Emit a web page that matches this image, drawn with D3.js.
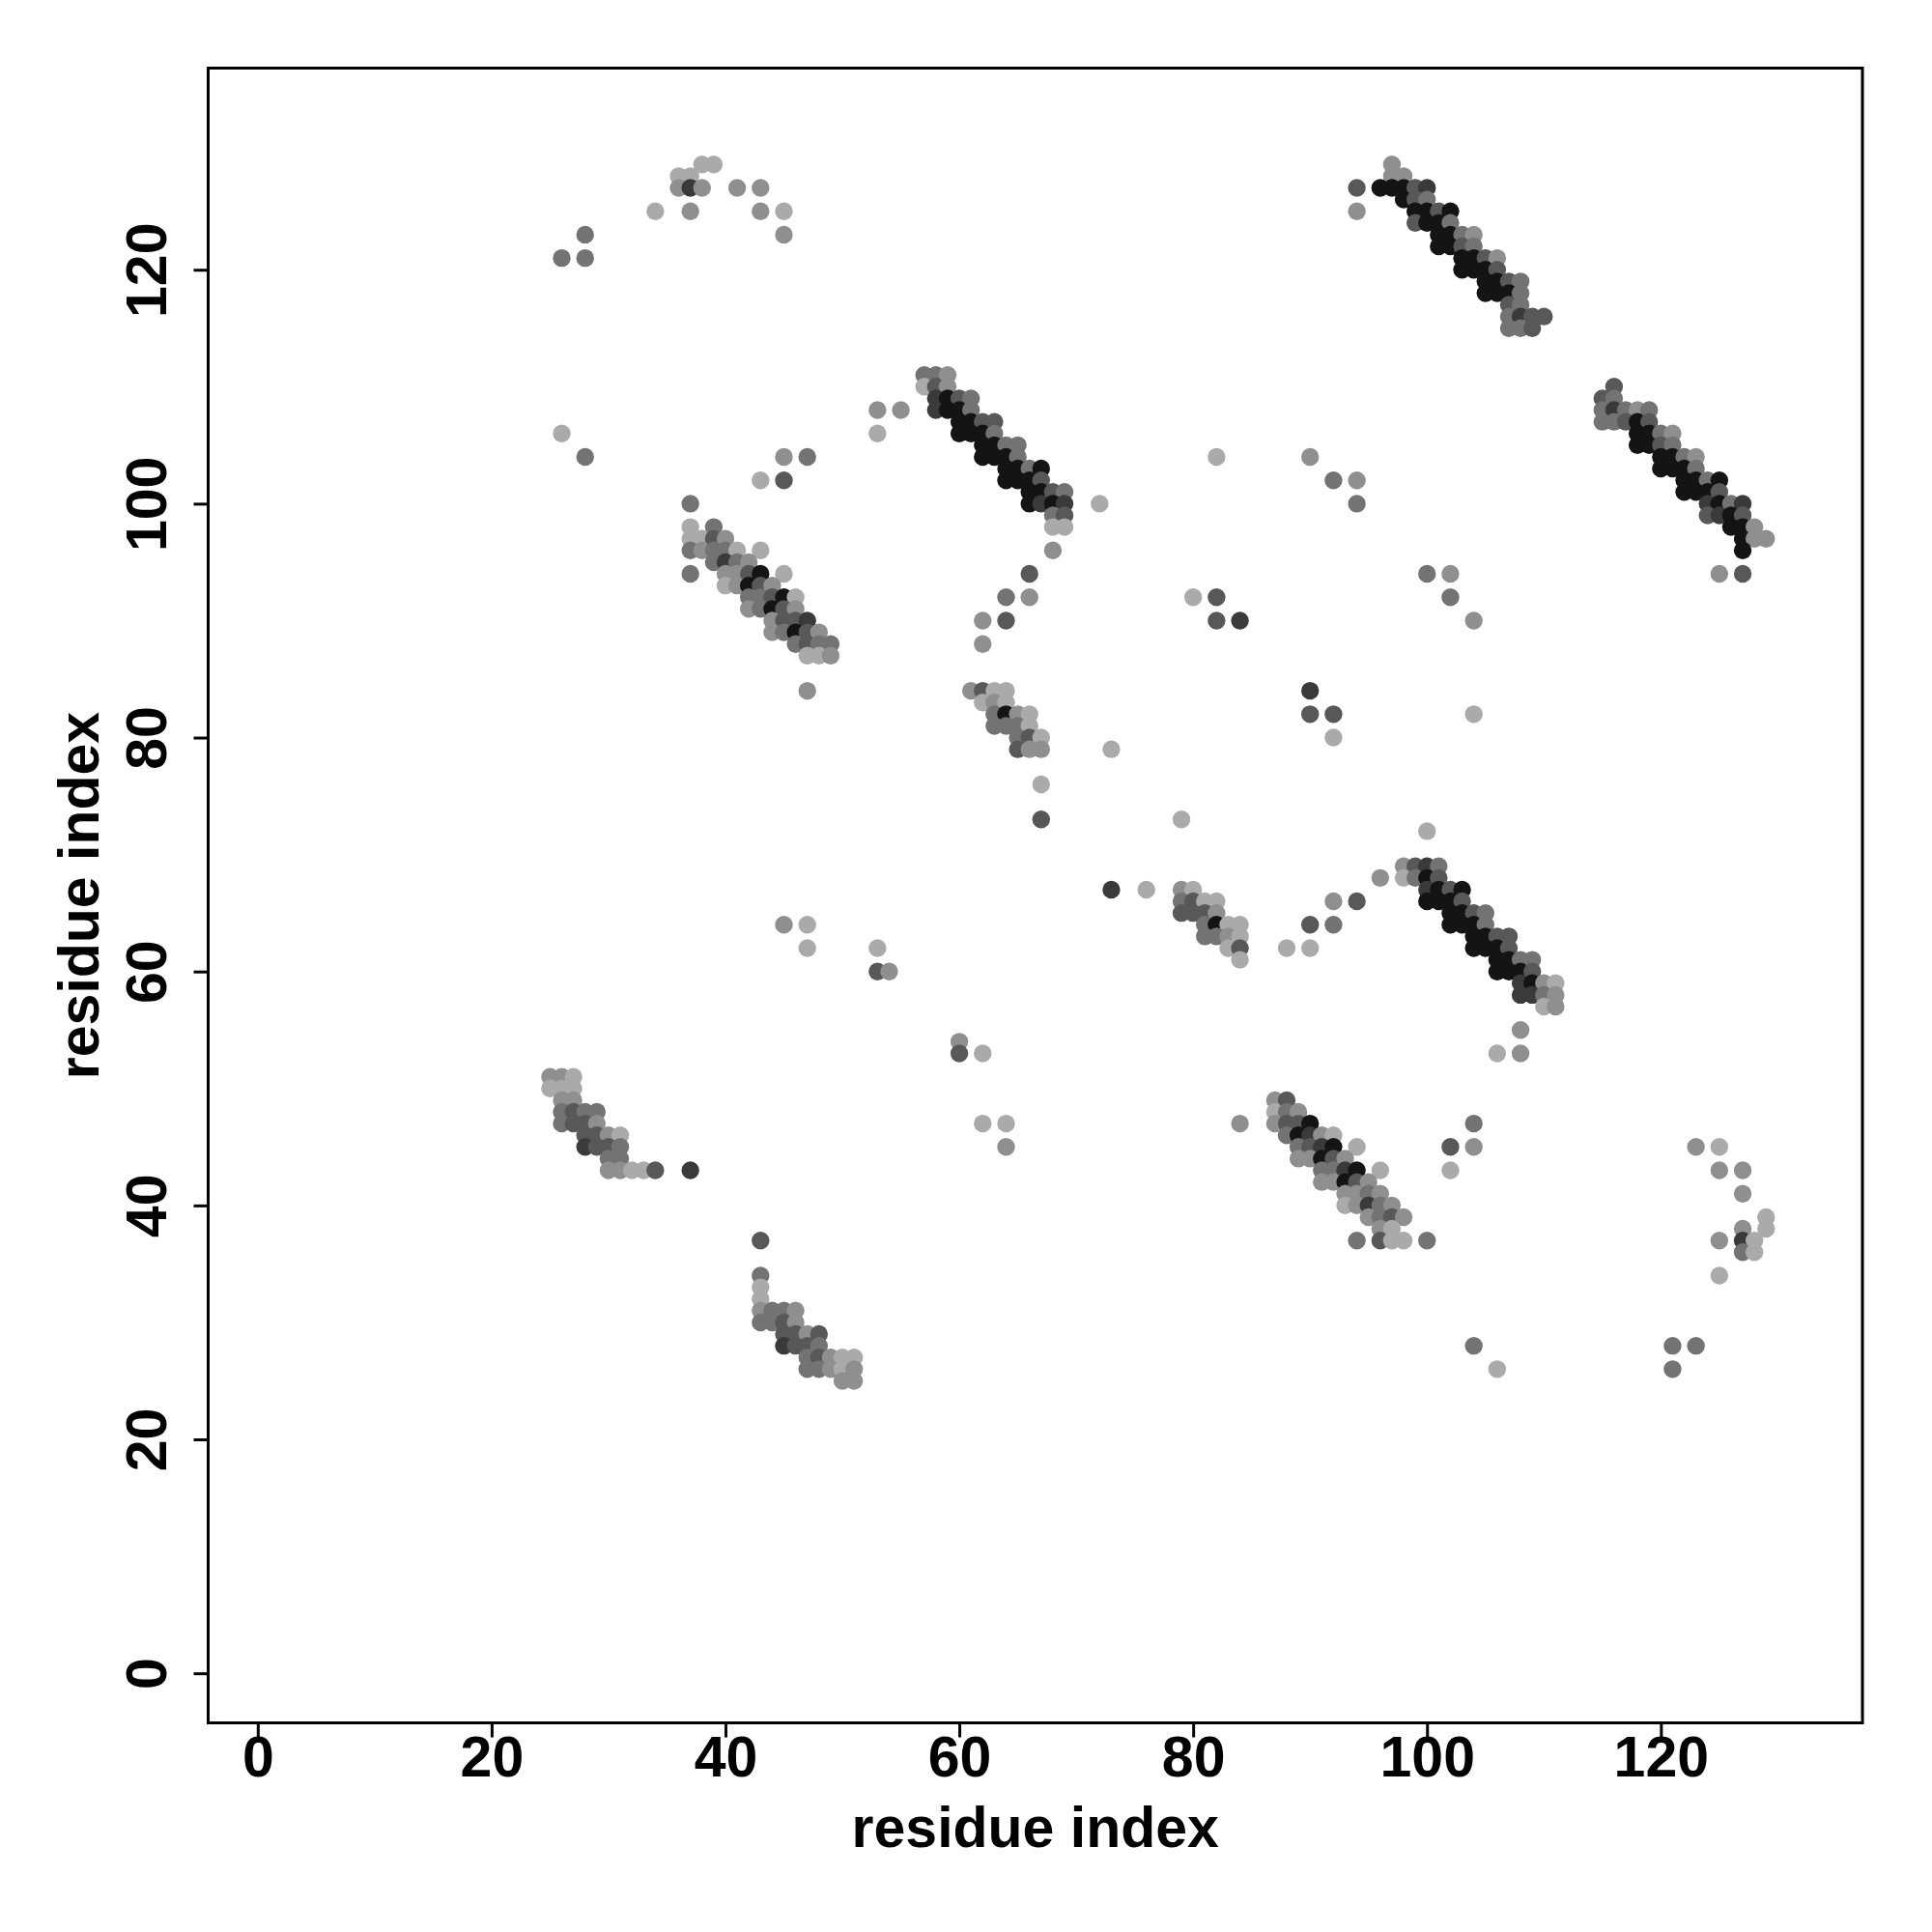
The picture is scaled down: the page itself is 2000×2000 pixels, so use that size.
<!DOCTYPE html>
<html>
<head>
<meta charset="utf-8">
<script src="https://cdn.jsdelivr.net/npm/d3@7"></script>
<style>
  html, body { margin: 0; padding: 0; background: #fff; }
  svg { display: block; }
</style>
</head>
<body>
<svg id="chart" width="2000" height="2000"></svg>
<script>
// ---------- DATA: [residue i, residue j, contact strength level 1..6] ----------
const topLeftScatter = [
  [38,129,1],[39,129,1],[36,128,1],[37,128,1],[36,127,2],[37,127,5],[38,127,2],[41,127,2],[43,127,2],
  [34,125,1],[37,125,2],[43,125,2],[45,125,1],[45,123,2],[26,121,3],[28,121,3],[28,123,3]
];
const upperLeftScatter = [
  [26,106,1],[28,104,3],[45,104,2],[47,104,3],[43,102,1],[45,102,4],[53,108,2],[55,108,2],[53,106,1]
];
const strand57to69 = [
  [57,111,3],[58,111,3],[59,111,2],
  [57,110,1],[58,110,4],[59,110,2],
  [58,109,5],[59,109,6],[60,109,4],[61,109,3],
  [58,108,5],[59,108,6],[60,108,6],[61,108,3],
  [60,107,6],[61,107,6],[62,107,4],[63,107,4],
  [60,106,6],[61,106,6],[62,106,6],[63,106,3],
  [62,105,6],[63,105,6],[64,105,3],[65,105,3],
  [62,104,6],[63,104,6],[64,104,6],[65,104,3],
  [64,103,6],[65,103,6],[66,103,3],[67,103,6],
  [64,102,6],[65,102,6],[66,102,6],[67,102,4],
  [66,101,6],[67,101,6],[68,101,4],[69,101,3],
  [66,100,6],[67,100,5],[68,100,6],[69,100,5],
  [68,99,3],[69,99,4],
  [68,98,1],[69,98,1]
];
const nearStrandScatter = [
  [72,100,1],[68,96,2],[66,94,4],[64,92,3],[66,92,2],[62,90,2],[64,90,4],[62,88,2]
];
const strand94to111 = [
  [94,127,4],[94,125,2],[97,129,2],[97,128,2],[98,128,2],
  [96,127,6],[97,127,6],[98,127,6],[99,127,4],[100,127,5],
  [98,126,6],[99,126,4],[100,126,3],
  [99,125,6],[100,125,6],[101,125,4],[102,125,6],
  [99,124,4],[100,124,6],[101,124,6],[102,124,3],
  [101,123,6],[102,123,6],[103,123,3],[104,123,2],
  [101,122,6],[102,122,6],[103,122,4],[104,122,3],
  [103,121,6],[104,121,6],[105,121,4],[106,121,2],
  [103,120,6],[104,120,6],[105,120,6],[106,120,4],
  [105,119,6],[106,119,6],[107,119,4],[108,119,3],
  [105,118,6],[106,118,6],[107,118,6],[108,118,3],
  [107,117,4],[108,117,3],
  [107,116,3],[108,116,5],[109,116,4],[110,116,4],
  [107,115,3],[108,115,3],[109,115,4]
];
const strand115to129 = [
  [116,110,4],[115,109,4],[116,109,3],
  [115,108,3],[116,108,5],[117,108,3],[118,108,2],[119,108,3],
  [115,107,3],[116,107,3],[117,107,4],[118,107,6],[119,107,4],
  [118,106,6],[119,106,6],[120,106,3],[121,106,2],
  [118,105,6],[119,105,6],[120,105,4],[121,105,3],
  [120,104,6],[121,104,6],[122,104,3],[123,104,2],
  [120,103,6],[121,103,6],[122,103,6],[123,103,3],
  [122,102,6],[123,102,6],[124,102,3],[125,102,6],
  [122,101,6],[123,101,6],[124,101,6],[125,101,4],
  [124,100,5],[125,100,6],[126,100,3],[127,100,5],
  [124,99,4],[125,99,5],[126,99,6],[127,99,4],
  [126,98,6],[127,98,6],[128,98,2],
  [127,97,6],[128,97,2],[129,97,2],
  [127,96,6],
  [125,94,2],[127,94,4]
];
const strand37to49 = [
  [37,100,3],
  [37,98,1],[39,98,3],
  [37,97,1],[38,97,1],[39,97,4],[40,97,2],
  [37,96,3],[38,96,2],[39,96,3],[40,96,3],[41,96,1],[43,96,1],
  [39,95,3],[40,95,5],[41,95,3],[42,95,2],
  [37,94,3],[40,94,2],[41,94,2],[42,94,4],[43,94,6],[45,94,1],
  [40,93,1],[41,93,2],[42,93,6],[43,93,4],[44,93,2],
  [42,92,3],[43,92,3],[44,92,4],[45,92,6],[46,92,1],
  [42,91,2],[43,91,3],[44,91,6],[45,91,4],[46,91,2],
  [44,90,2],[45,90,4],[46,90,4],[47,90,5],
  [44,89,2],[45,89,3],[46,89,6],[47,89,4],[48,89,2],
  [46,88,3],[47,88,4],[48,88,3],[49,88,3],
  [47,87,1],[48,87,1],[49,87,2],
  [47,84,2]
];
const midScatter = [
  [82,104,1],[90,104,2],[92,102,3],[94,102,2],[94,100,3],[100,94,3],[102,94,2],[102,92,3],[104,90,2],
  [80,92,1],[82,92,4],[82,90,4],[84,90,5],[90,84,5],[90,82,4],[92,82,4],[92,80,1],[104,82,1],[73,79,1]
];
const strand61to67 = [
  [61,84,2],[62,84,4],[63,84,1],[64,84,1],
  [62,83,1],[63,83,2],[64,83,1],
  [63,82,3],[64,82,6],[65,82,2],[66,82,1],
  [63,81,3],[64,81,3],[65,81,3],[66,81,1],
  [65,80,3],[66,80,4],[67,80,1],
  [65,79,4],[66,79,2],[67,79,2],
  [67,76,1],[67,73,4]
];
const strand79to84 = [
  [73,67,5],[76,67,1],[79,73,1],
  [79,67,2],[80,67,1],
  [79,66,3],[80,66,4],[81,66,1],[82,66,1],
  [79,65,4],[80,65,4],[81,65,4],[82,65,2],
  [81,64,3],[82,64,6],[83,64,1],[84,64,1],
  [81,63,3],[82,63,3],[83,63,2],[84,63,1],
  [83,62,1],[84,62,4],
  [84,61,1]
];
const scatter88to100 = [
  [100,72,1],[96,68,2],[92,66,2],[94,66,4],[90,64,4],[92,64,3],[88,62,1],[90,62,1]
];
const strand98to111 = [
  [98,69,2],[99,69,4],[100,69,5],[101,69,3],
  [98,68,1],[99,68,3],[100,68,6],[101,68,4],
  [100,67,5],[101,67,6],[102,67,4],[103,67,6],
  [100,66,6],[101,66,6],[102,66,6],[103,66,4],
  [102,65,6],[103,65,6],[104,65,4],[105,65,3],
  [102,64,6],[103,64,6],[104,64,6],[105,64,3],
  [104,63,6],[105,63,6],[106,63,4],[107,63,4],
  [104,62,6],[105,62,6],[106,62,6],[107,62,4],
  [106,61,6],[107,61,6],[108,61,3],[109,61,3],
  [106,60,6],[107,60,6],[108,60,6],[109,60,4],
  [108,59,5],[109,59,6],[110,59,2],[111,59,1],
  [108,58,5],[109,58,5],[110,58,3],[111,58,2],
  [110,57,1],[111,57,2],
  [108,55,2],[106,53,1],[108,53,2]
];
const lowerLeftScatter = [
  [45,64,2],[47,64,1],[47,62,1],[53,62,1],[53,60,4],[54,60,2],[60,54,2],[60,53,4],[62,53,1],
  [62,47,1],[64,47,1],[64,45,2],[37,43,5]
];
const strand25to34 = [
  [25,51,2],[26,51,2],[27,51,1],
  [25,50,1],[26,50,1],[27,50,1],
  [26,49,2],[27,49,2],
  [26,48,3],[27,48,4],[28,48,3],[29,48,3],
  [26,47,3],[27,47,4],[28,47,4],[29,47,2],
  [28,46,4],[29,46,4],[30,46,2],[31,46,1],
  [28,45,5],[29,45,4],[30,45,4],[31,45,3],
  [30,44,3],[31,44,3],
  [30,43,2],[31,43,2],[32,43,1],[33,43,1],[34,43,4]
];
const strand43to51 = [
  [43,37,4],[43,34,3],[43,33,1],[43,32,1],
  [43,31,2],[44,31,3],[45,31,3],[46,31,2],
  [43,30,3],[44,30,3],[45,30,4],[46,30,2],
  [45,29,4],[46,29,4],[47,29,2],[48,29,4],
  [45,28,5],[46,28,4],[47,28,4],[48,28,3],
  [47,27,3],[48,27,4],[49,27,2],[50,27,1],[51,27,1],
  [47,26,3],[48,26,3],[49,26,2],[50,26,1],[51,26,2],
  [50,25,2],[51,25,2]
];
const strand87to98 = [
  [84,47,2],[104,47,3],[102,45,4],[104,45,2],[102,43,1],[104,28,3],[106,26,1],[94,37,3],[100,37,3],
  [87,49,2],[88,49,4],
  [87,48,1],[88,48,3],[89,48,2],
  [87,47,2],[88,47,4],[89,47,4],[90,47,6],
  [88,46,3],[89,46,6],[90,46,5],[91,46,2],[92,46,1],
  [89,45,3],[90,45,4],[91,45,5],[92,45,6],[94,45,1],
  [89,44,2],[90,44,2],[91,44,6],[92,44,4],[93,44,2],
  [91,43,3],[92,43,3],[93,43,5],[94,43,6],[96,43,1],
  [91,42,2],[92,42,2],[93,42,6],[94,42,4],[95,42,2],
  [93,41,2],[94,41,2],[95,41,3],[96,41,2],
  [93,40,1],[94,40,2],[95,40,5],[96,40,3],[97,40,2],
  [95,39,2],[96,39,3],[97,39,4],[98,39,2],
  [96,38,2],[97,38,1],
  [96,37,4],[97,37,1],[98,37,1]
];
const lowerRightScatter = [
  [123,45,2],[125,45,1],[125,43,2],[127,43,2],[127,41,2],[129,39,1],[129,38,1],[127,38,2],
  [127,37,5],[128,37,1],[127,36,3],[128,36,1],[125,37,2],[125,34,1],[121,28,3],[123,28,3],[121,26,3]
];

const tickValues = [0, 20, 40, 60, 80, 100, 120];
const strengthLevels = [1, 2, 3, 4, 5, 6];
const axisTitle = "residue index";
const residueRange = [1, 132];

// ---------- LAYOUT ----------
const svg = d3.select("#chart");
const plot = { left: 215.5, right: 1928, top: 70.5, bottom: 1783.5 };
const span = residueRange[1] - residueRange[0];
const dom = [residueRange[0] - 0.04 * span, residueRange[1] + 0.04 * span];

const x = d3.scaleLinear().domain(dom).range([plot.left, plot.right]);
const y = d3.scaleLinear().domain(dom).range([plot.bottom, plot.top]);
const gray = d3.scaleOrdinal().domain(strengthLevels)
  .range(["#aaaaaa", "#8f8f8f", "#737373", "#585858", "#3a3a3a", "#141414"]);

const contacts = [].concat(
  topLeftScatter, upperLeftScatter, strand57to69, nearStrandScatter, strand94to111,
  strand115to129, strand37to49, midScatter, strand61to67, strand79to84, scatter88to100,
  strand98to111, lowerLeftScatter, strand25to34, strand43to51, strand87to98, lowerRightScatter
);

const font = "'Liberation Sans', Arial, Helvetica, sans-serif";

// points
svg.append("g").selectAll("circle").data(contacts).join("circle")
  .attr("cx", d => x(d[0]))
  .attr("cy", d => y(d[1]))
  .attr("r", 9.2)
  .attr("fill", d => gray(d[2]));

// box
svg.append("rect")
  .attr("x", plot.left).attr("y", plot.top)
  .attr("width", plot.right - plot.left).attr("height", plot.bottom - plot.top)
  .attr("fill", "none").attr("stroke", "#000").attr("stroke-width", 3);

// x axis
const xAxis = svg.append("g")
  .attr("transform", `translate(0,${plot.bottom})`)
  .call(d3.axisBottom(x).tickValues(tickValues).tickSize(15).tickPadding(0).tickSizeOuter(0));
xAxis.select(".domain").remove();
xAxis.selectAll(".tick line").attr("stroke", "#000").attr("stroke-width", 3);
xAxis.selectAll(".tick text")
  .attr("y", 55.5).attr("dy", null)
  .attr("font-family", font).attr("font-weight", "bold").attr("font-size", 59).attr("fill", "#000");

// y axis
const yAxis = svg.append("g")
  .attr("transform", `translate(${plot.left},0)`)
  .call(d3.axisLeft(y).tickValues(tickValues).tickSize(15).tickPadding(0).tickSizeOuter(0));
yAxis.select(".domain").remove();
yAxis.selectAll(".tick line").attr("stroke", "#000").attr("stroke-width", 3);
yAxis.selectAll(".tick text")
  .attr("x", null).attr("y", null).attr("dy", null)
  .attr("text-anchor", "middle")
  .attr("transform", `translate(${172 - plot.left},0) rotate(-90)`)
  .attr("font-family", font).attr("font-weight", "bold").attr("font-size", 59).attr("fill", "#000");

// axis titles
svg.append("text")
  .attr("x", (plot.left + plot.right) / 2).attr("y", 1912)
  .attr("text-anchor", "middle")
  .attr("font-family", font).attr("font-weight", "bold").attr("font-size", 59)
  .text(axisTitle);
svg.append("text")
  .attr("transform", `translate(102,${(plot.top + plot.bottom) / 2}) rotate(-90)`)
  .attr("text-anchor", "middle")
  .attr("font-family", font).attr("font-weight", "bold").attr("font-size", 59)
  .text(axisTitle);
</script>
</body>
</html>
